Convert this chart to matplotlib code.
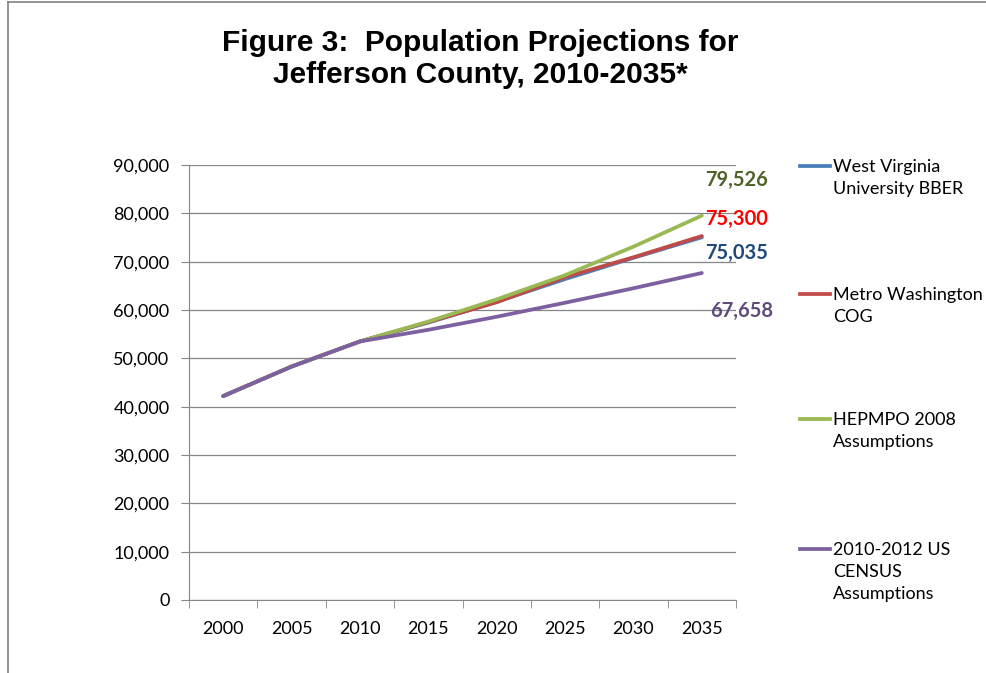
import matplotlib.pyplot as plt
from matplotlib.lines import Line2D
import numpy as np

years = ['2000', '2005', '2010', '2015', '2020', '2025', '2030', '2035']
wvu_bber = [42190, 48300, 53498, 57400, 61700, 66400, 70800, 75035]
metro_cog = [42190, 48300, 53498, 57500, 61600, 66800, 70900, 75300]
hepmpo = [42190, 48300, 53498, 57600, 62200, 67200, 73100, 79526]
census = [42190, 48300, 53498, 55900, 58600, 61500, 64500, 67658]

series = [
    ('West Virginia\nUniversity BBER', wvu_bber, '#4A7EBB', '#1F497D', 253),
    ('Metro Washington\nCOG', metro_cog, '#BE4B48', '#FF0000', 219),
    ('HEPMPO 2008\nAssumptions', hepmpo, '#98B954', '#4F6228', 180),
    ('2010-2012 US\nCENSUS\nAssumptions', census, '#7D60A0', '#604A7B', 311),
]
end_labels = ['75,035', '75,300', '79,526', '67,658']

W, H = 987, 673
fig = plt.figure(figsize=(W / 100, H / 100), dpi=100)
ax = fig.add_axes([189 / W, 1 - 600 / H, (736 - 189) / W, (600 - 165) / H])

x = np.arange(len(years))
for name, vals, col, lcol, ly in series:
    ax.plot(x, vals, color=col, lw=2.7, solid_capstyle='round')

ax.set_xlim(-0.5, len(years) - 0.5)
ax.set_ylim(0, 90000)
ax.set_yticks(range(0, 90001, 10000))
ax.set_yticklabels([f'{v:,}' for v in range(0, 90001, 10000)])
ax.set_xticks(x)
ax.set_xticklabels(years)
ax.set_xticks(np.arange(-0.5, len(years)), minor=True)
ax.tick_params(axis='x', which='major', length=0, pad=15)
ax.tick_params(axis='x', which='minor', length=6, color='#868686')
ax.tick_params(axis='y', length=6, color='#868686', pad=8)
for lab in ax.get_xticklabels() + ax.get_yticklabels():
    lab.set_fontfamily('Lato')
    lab.set_fontsize(13)
    lab.set_color('#000000')
ax.grid(axis='y', color='#868686', lw=0.9)
ax.set_axisbelow(True)
for s in ['top', 'right']:
    ax.spines[s].set_visible(False)
for s in ['left', 'bottom']:
    ax.spines[s].set_color('#868686')

# value labels at the end of each line
for (name, vals, col, lcol, ly), txt in zip(series, end_labels):
    xo = 710 if txt == '67,658' else 705
    fig.text(xo / W, 1 - ly / H, txt, color=lcol, fontsize=14.5,
             fontweight='bold', fontfamily='Lato', va='center', ha='left')

# legend on the right
leg_y = [166, 294, 419, 549]
for (name, vals, col, lcol, ly), yy in zip(series, leg_y):
    fig.add_artist(Line2D([800 / W, 830 / W], [1 - yy / H] * 2, color=col, lw=2.7))
    fig.text(833 / W, 1 - (yy - 7) / H, name, fontsize=13, fontfamily='Lato',
             va='top', ha='left', linespacing=1.48)

fig.text(480 / W, 1 - 59 / H, 'Figure 3:  Population Projections for\nJefferson County, 2010-2035*',
         ha='center', va='center', fontsize=21.5, fontweight='bold',
         fontfamily='Liberation Sans', linespacing=1.22)

# chart border
fig.add_artist(Line2D([8 / W, 8 / W], [0, 1 - 2 / H], color='#808080', lw=1.2))
fig.add_artist(Line2D([8 / W, 1], [1 - 2 / H] * 2, color='#808080', lw=1.2))

fig.savefig('out.png', dpi=100)
